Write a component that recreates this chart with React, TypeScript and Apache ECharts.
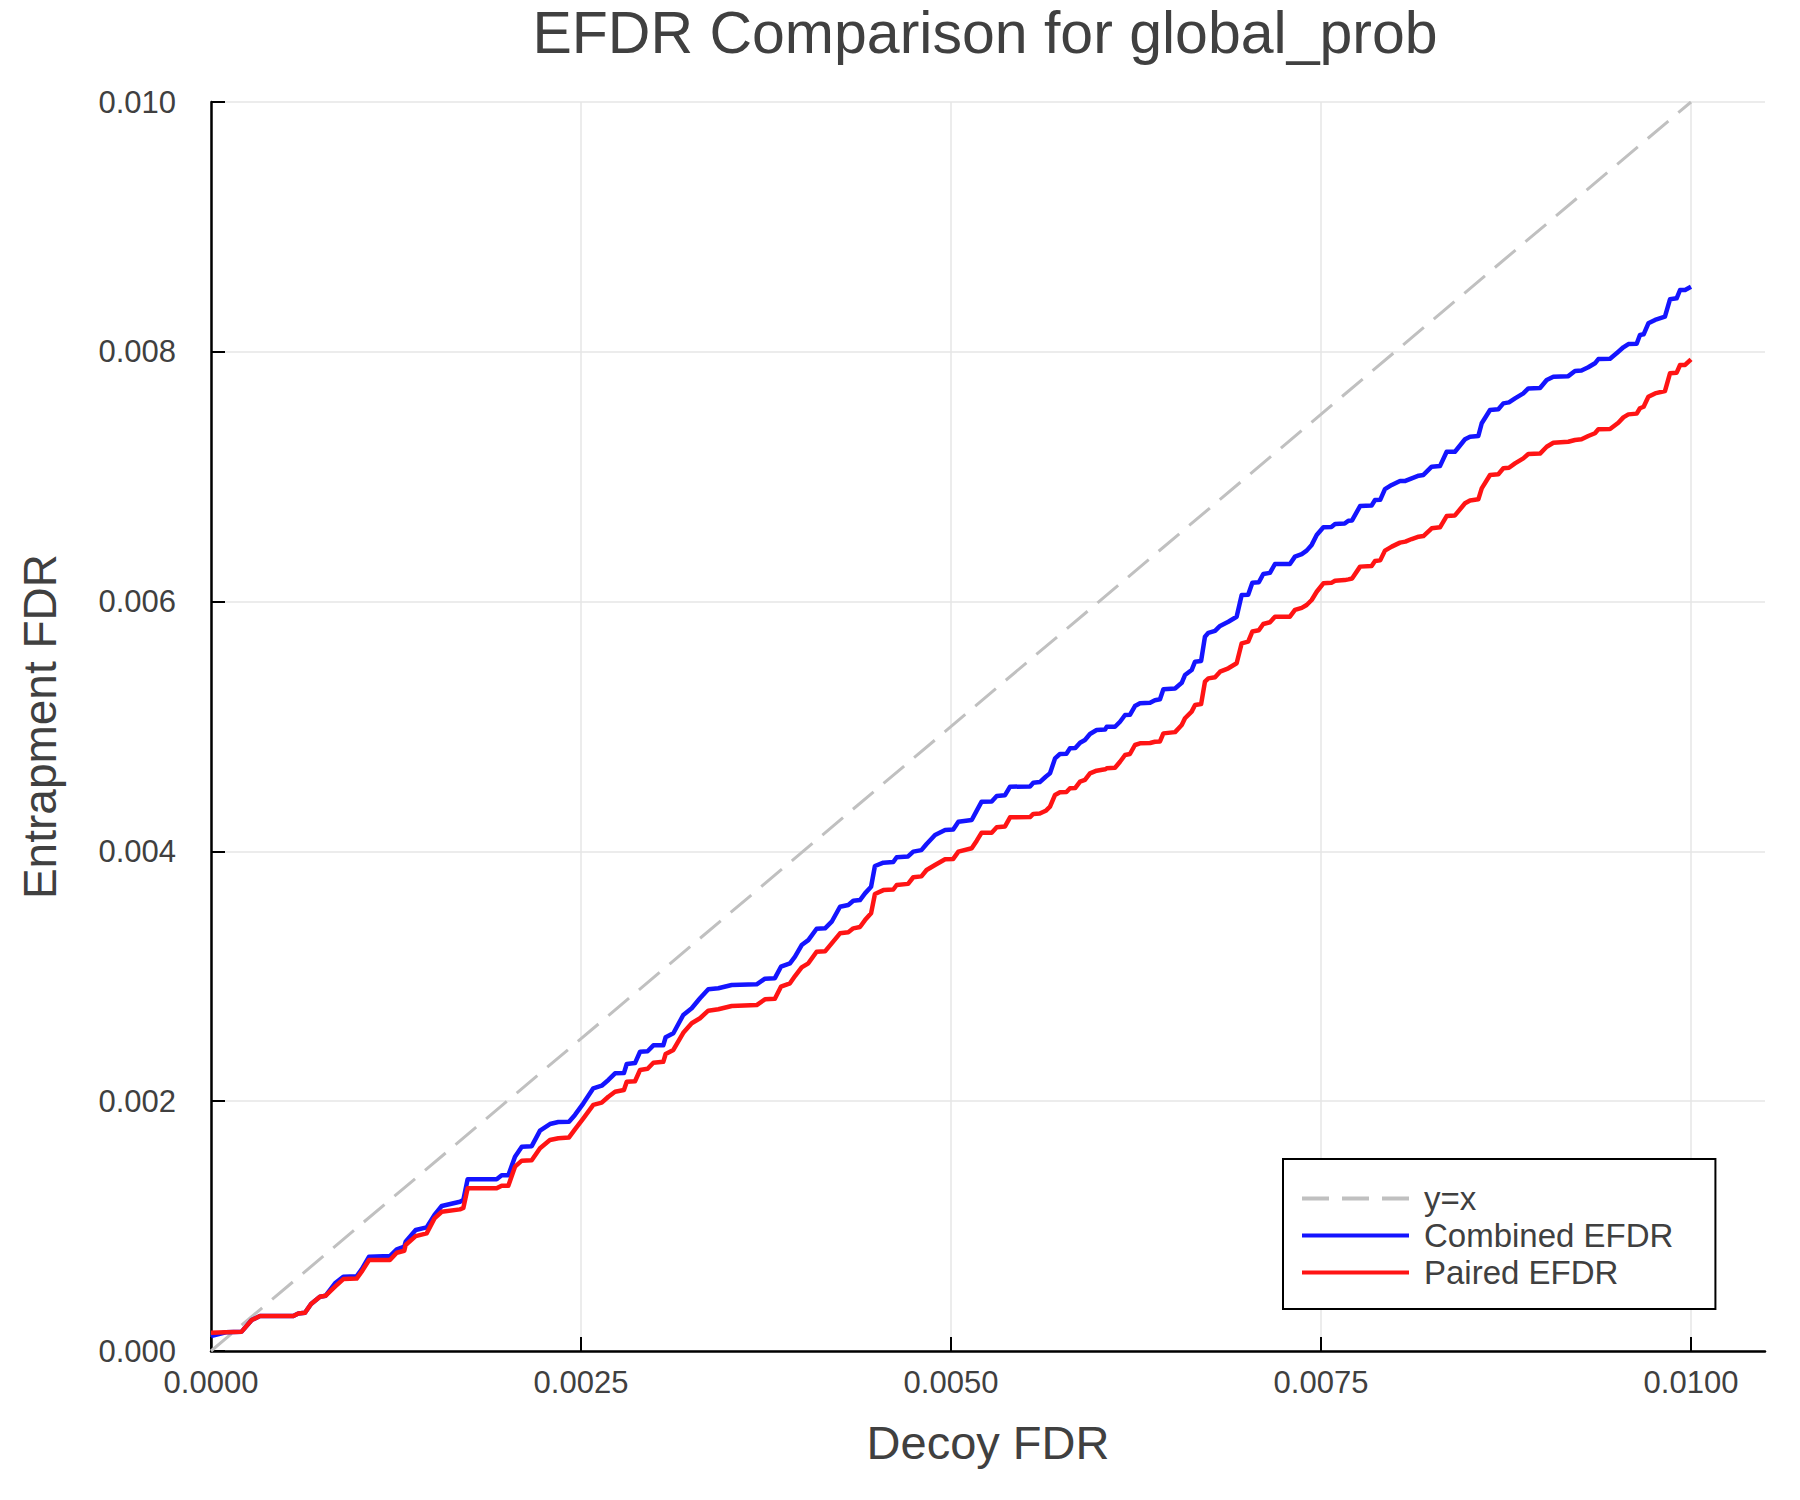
import React, { useEffect, useRef } from 'react';
import * as echarts from 'echarts';

// decoy FDR thresholds (x) shared by both EFDR curves
const decoyFdr = [
  0, 0.0001, 0.000207, 0.000275, 0.000331, 0.000556, 0.00059, 0.000635, 0.000676, 0.000736,
  0.000775, 0.000838, 0.000894, 0.000984, 0.001018, 0.001068, 0.001209, 0.001255, 0.001306, 0.001315,
  0.001383, 0.001457, 0.00151, 0.001559, 0.001682, 0.001705, 0.001734, 0.00193, 0.001964, 0.002009,
  0.002054, 0.0021, 0.002167, 0.002223, 0.00229, 0.002347, 0.002419, 0.002459, 0.002516, 0.002583,
  0.00264, 0.002685, 0.00273, 0.00279, 0.002809, 0.002865, 0.002899, 0.00295, 0.002989, 0.003056,
  0.003072, 0.003124, 0.003191, 0.003248, 0.003304, 0.00336, 0.003428, 0.003518, 0.003687, 0.003743,
  0.00381, 0.003851, 0.003912, 0.003946, 0.003991, 0.004036, 0.004092, 0.004149, 0.004194, 0.00425,
  0.004306, 0.00434, 0.004385, 0.004419, 0.00446, 0.004486, 0.004543, 0.00461, 0.004633, 0.00471,
  0.004745, 0.0048, 0.004835, 0.004892, 0.00496, 0.005015, 0.00505, 0.00514, 0.005174, 0.005207,
  0.005275, 0.005309, 0.005365,
  0.005399, 0.005534, 0.005556, 0.0056, 0.00564, 0.005669, 0.005703, 0.005736, 0.00578, 0.005804,
  0.00584, 0.005872, 0.005905, 0.005939, 0.005984, 0.006041, 0.006052, 0.006108, 0.006142, 0.006176,
  0.006209, 0.006243, 0.006277, 0.006345, 0.006378, 0.006412,
  0.006435, 0.006514, 0.006559, 0.006581, 0.006626, 0.006649, 0.00669, 0.006716,
  0.006739, 0.006784, 0.006818, 0.006874, 0.00693, 0.006964, 0.007008, 0.007036, 0.00708, 0.00711,
  0.007155, 0.007189, 0.00729, 0.007324, 0.00737, 0.007403, 0.007437, 0.007471, 0.007516, 0.00757,
  0.007595, 0.00766, 0.007685, 0.00771, 0.007764, 0.007842, 0.007865, 0.0079, 0.007932, 0.007978,
  0.008034, 0.00807, 0.008113, 0.00816, 0.008192, 0.008248, 0.008304, 0.008349, 0.008405, 0.008473,
  0.008507, 0.008563, 0.008586, 0.008642, 0.008698, 0.008732, 0.00877, 0.008811, 0.008867, 0.008901,
  0.00898, 0.009025, 0.00907, 0.009171, 0.009216, 0.00926, 0.009306, 0.009351, 0.009374, 0.009453,
  0.009509, 0.009543, 0.009577, 0.009633, 0.009655, 0.00968, 0.009712, 0.009757, 0.009824, 0.009858,
  0.009903, 0.009926, 0.00996, 0.01,
];

const combinedEfdr = [
  0.00012, 0.00015, 0.000155, 0.000248, 0.00028, 0.00028, 0.0003, 0.000306, 0.000376, 0.000435,
  0.000443, 0.000542, 0.000595, 0.000598, 0.000654, 0.000755, 0.00076, 0.000814, 0.000835, 0.000875,
  0.000969, 0.00099, 0.001089, 0.001161, 0.001195, 0.00121, 0.001375, 0.001375, 0.001407, 0.001407,
  0.001556, 0.001636, 0.00164, 0.001764, 0.001817, 0.001833, 0.001835, 0.00189, 0.001983, 0.002103,
  0.002124, 0.00217, 0.002223, 0.002225, 0.002298, 0.002305, 0.002396, 0.0024, 0.002447, 0.002447,
  0.002512, 0.002544, 0.00269, 0.002744, 0.002824, 0.002896, 0.002904, 0.00293, 0.002936, 0.002981,
  0.002985, 0.003077, 0.003104, 0.003157, 0.00325, 0.00329, 0.003381, 0.003384, 0.003437, 0.003557,
  0.003571, 0.003605, 0.00361, 0.003664, 0.003717, 0.003883, 0.00391, 0.003915, 0.003953, 0.00396,
  0.003998, 0.00401, 0.004059, 0.004131, 0.004171, 0.004175, 0.004238, 0.004251, 0.004326, 0.004398,
  0.0044, 0.004444, 0.00445,
  0.004518, 0.00452, 0.00455, 0.004555, 0.004598, 0.004625, 0.004745, 0.00478, 0.004782, 0.004825,
  0.004827, 0.00487, 0.004892, 0.00494, 0.004972, 0.004975, 0.004998, 0.004998, 0.005038, 0.005092,
  0.005094, 0.005164, 0.005186, 0.00519, 0.00521, 0.005218,
  0.005298, 0.005305, 0.00535, 0.005412, 0.005452, 0.005519, 0.005525, 0.005719,
  0.00575, 0.005765, 0.005805, 0.005839, 0.005879, 0.006053, 0.006055, 0.006151, 0.006155, 0.006221,
  0.00623, 0.006301, 0.006301, 0.00636, 0.00638, 0.006408, 0.006454, 0.006533, 0.006595, 0.006597,
  0.006621, 0.006625, 0.006648, 0.00665, 0.006765, 0.00677, 0.006813, 0.006815, 0.0069, 0.006934,
  0.006966, 0.006966, 0.006987, 0.007008, 0.007014, 0.00708, 0.007085, 0.0072, 0.0072, 0.0073,
  0.00732, 0.007326, 0.007428, 0.007534, 0.00754, 0.007587, 0.007595, 0.007627, 0.007667, 0.007707,
  0.00771, 0.007774, 0.0078, 0.007805, 0.007846, 0.00785, 0.007876, 0.007908, 0.007942, 0.007945,
  0.008001, 0.008036, 0.008062, 0.008065, 0.008135, 0.00814, 0.008228, 0.008255, 0.008281, 0.00842,
  0.008428, 0.008495, 0.008495, 0.008521,
];

const pairedEfdr = [
  0.000147, 0.00015, 0.000155, 0.000248, 0.00028, 0.00028, 0.0003, 0.000306, 0.000376, 0.000435,
  0.000443, 0.000515, 0.000576, 0.00058, 0.000635, 0.000729, 0.000729, 0.000787, 0.000803, 0.000849,
  0.00092, 0.000942, 0.001062, 0.001115, 0.001134, 0.001145, 0.001303, 0.001303, 0.001324, 0.001324,
  0.001476, 0.001524, 0.001527, 0.001623, 0.001689, 0.001703, 0.00171, 0.001775, 0.001863, 0.00197,
  0.001988, 0.002036, 0.002076, 0.00209, 0.002156, 0.00216, 0.00225, 0.00226, 0.002308, 0.002315,
  0.002378, 0.00241, 0.002548, 0.002624, 0.002664, 0.002725, 0.002736, 0.002762, 0.00277, 0.002816,
  0.00282, 0.002917, 0.002944, 0.003002, 0.003072, 0.003104, 0.003197, 0.0032, 0.003264, 0.003344,
  0.003352, 0.003384, 0.003395, 0.00345, 0.003504, 0.003659, 0.00369, 0.003695, 0.003731, 0.00374,
  0.003793, 0.0038, 0.003851, 0.003891, 0.003937, 0.00394, 0.003998, 0.004025, 0.004086, 0.00415,
  0.00415, 0.004193, 0.0042,
  0.004273, 0.004275, 0.0043, 0.004303, 0.004325, 0.004358, 0.004452, 0.004473, 0.004475, 0.004505,
  0.004508, 0.004558, 0.004572, 0.004625, 0.004646, 0.004657, 0.004665, 0.00467, 0.004718, 0.004772,
  0.00478, 0.004852, 0.004865, 0.004868, 0.004878, 0.00488,
  0.004945, 0.004955, 0.005012, 0.005066, 0.005119, 0.005172, 0.00518, 0.005359,
  0.005385, 0.005395, 0.005439, 0.005466, 0.005506, 0.005666, 0.00568, 0.00576, 0.00577, 0.005821,
  0.005835, 0.005879, 0.005879, 0.005933, 0.00595, 0.005973, 0.006013, 0.006079, 0.006146, 0.00615,
  0.006167, 0.006172, 0.006178, 0.006185, 0.00628, 0.006285, 0.006325, 0.00633, 0.006408, 0.00644,
  0.006472, 0.00648, 0.006501, 0.00652, 0.006525, 0.006587, 0.006595, 0.006685, 0.00669, 0.006787,
  0.00681, 0.006819, 0.006907, 0.007014, 0.00702, 0.007067, 0.007072, 0.007107, 0.007147, 0.007182,
  0.007185, 0.00724, 0.007272, 0.00728, 0.007294, 0.0073, 0.007326, 0.007348, 0.00738, 0.007382,
  0.007432, 0.007475, 0.007499, 0.007505, 0.007548, 0.00756, 0.00764, 0.007667, 0.007686, 0.007828,
  0.007833, 0.007894, 0.007895, 0.00794,
];

// reference diagonal
const identityLine = [0, 0.01];

const xTicks = [0, 0.0025, 0.005, 0.0075, 0.01];

const FONT = '"Liberation Sans", Helvetica, Arial, sans-serif';
const TEXT = '#404040';

const App: React.FC = () => {
  const chartRef = useRef<HTMLDivElement>(null);

  useEffect(() => {
    if (!chartRef.current) return;
    document.body.style.margin = '0';

    const chart = echarts.init(chartRef.current, null, { renderer: 'svg' });

    const option = {
      animation: false,
      backgroundColor: '#ffffff',
      textStyle: { fontFamily: FONT },
      graphic: [
        {
          type: 'text',
          x: 985,
          y: 33,
          style: {
            text: 'EFDR Comparison for global_prob',
            fontFamily: FONT,
            fontSize: 59,
            fill: TEXT,
            textAlign: 'center',
            textVerticalAlign: 'middle',
          },
        },
      ],
      grid: { left: 211, right: 35, top: 102, bottom: 149 },
      legend: {
        orient: 'vertical',
        left: 1283,
        top: 1159,
        backgroundColor: '#ffffff',
        borderColor: '#000000',
        borderWidth: 2,
        borderRadius: 0,
        padding: [23, 42, 20, 17],
        itemGap: 4,
        itemWidth: 107,
        itemHeight: 30,
        selectedMode: false,
        itemStyle: { opacity: 0 },
        lineStyle: { width: 4 },
        textStyle: { fontSize: 33, color: TEXT, fontFamily: FONT, padding: [0, 0, 0, 10] },
        data: ['y=x', 'Combined EFDR', 'Paired EFDR'],
      },
      xAxis: {
        type: 'value',
        min: 0,
        max: 0.0105,
        interval: 0.0025,
        name: 'Decoy FDR',
        nameLocation: 'middle',
        nameGap: 68,
        nameTextStyle: { fontSize: 47, color: TEXT, fontFamily: FONT },
        axisLine: { onZero: false, lineStyle: { color: '#000000', width: 2.5 } },
        axisTick: { inside: true, length: 14, lineStyle: { color: '#000000', width: 2 }, customValues: xTicks },
        axisLabel: {
          customValues: xTicks,
          margin: 16,
          fontSize: 31,
          color: TEXT,
          fontFamily: FONT,
          formatter: (v: number) => v.toFixed(4),
        },
        splitLine: { show: true, lineStyle: { color: '#e6e6e6', width: 1.5 } },
      },
      yAxis: {
        type: 'value',
        min: 0,
        max: 0.01,
        interval: 0.002,
        name: 'Entrapment FDR',
        nameLocation: 'middle',
        nameGap: 148,
        nameTextStyle: { fontSize: 46, color: TEXT, fontFamily: FONT },
        axisLine: { show: true, lineStyle: { color: '#000000', width: 2.5 } },
        axisTick: { show: true, inside: true, length: 14, lineStyle: { color: '#000000', width: 2 } },
        axisLabel: {
          margin: 35,
          fontSize: 31,
          color: TEXT,
          fontFamily: FONT,
          formatter: (v: number) => v.toFixed(3),
        },
        splitLine: { show: true, lineStyle: { color: '#e6e6e6', width: 1.5 } },
      },
      series: [
        {
          name: 'y=x',
          type: 'line',
          data: identityLine.map(v => [v, v]),
          symbol: 'none',
          lineStyle: { color: '#c0c0c0', width: 3, type: [27, 13] },
          itemStyle: { color: '#c0c0c0' },
          z: 1,
        },
        {
          name: 'Combined EFDR',
          type: 'line',
          data: decoyFdr.map((x, i) => [x, combinedEfdr[i]]),
          symbol: 'none',
          lineStyle: { color: '#1414ff', width: 4.5, join: 'round' },
          itemStyle: { color: '#1414ff' },
          z: 2,
        },
        {
          name: 'Paired EFDR',
          type: 'line',
          data: decoyFdr.map((x, i) => [x, pairedEfdr[i]]),
          symbol: 'none',
          lineStyle: { color: '#ff1414', width: 4.5, join: 'round' },
          itemStyle: { color: '#ff1414' },
          z: 3,
        },
      ],
    };

    chart.setOption(option);

    const handleResize = () => {
      chart.resize();
    };
    window.addEventListener('resize', handleResize);

    return () => {
      window.removeEventListener('resize', handleResize);
      chart.dispose();
    };
  }, []);

  return <div ref={chartRef} style={{ width: '1800px', height: '1500px' }} />;
};

export default App;
